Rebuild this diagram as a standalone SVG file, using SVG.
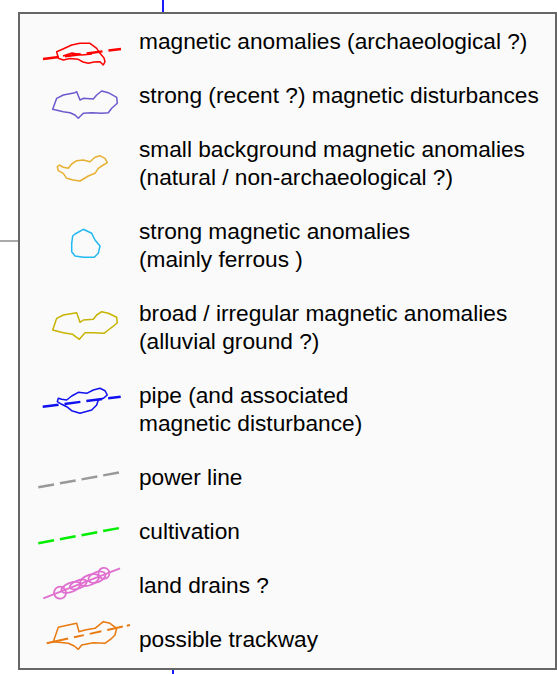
<svg xmlns="http://www.w3.org/2000/svg" width="557" height="674" viewBox="0 0 557 674">
<style>
text{font-family:"Liberation Sans",Arial,sans-serif;font-size:22.7px;fill:#000}
.sym{fill:none;stroke-width:1.5;stroke-linejoin:round}
.dash{fill:none;stroke-width:2.5;stroke-dasharray:16 6}
</style>
<rect width="557" height="674" fill="#fff"/>
<g id="context">
<line x1="163" y1="0" x2="163" y2="14" stroke="#1a1aff" stroke-width="2"/>
<line x1="173" y1="668" x2="173" y2="674" stroke="#1a1aff" stroke-width="2"/>
<line x1="0" y1="241" x2="18" y2="241" stroke="#aaa" stroke-width="2"/>
</g>
<g id="legend-box"><rect x="19" y="13" width="537" height="656" fill="#fafafa" stroke="#666" stroke-width="2"/></g>
<g id="item-archaeological">
<line class="dash" x1="43" y1="59" x2="121" y2="49" stroke="#ff0000" stroke-dasharray="14 5"/>
<polygon class="sym" stroke="#ff0000" points="56.7,51.7 63,49 71.7,45 80,43.3 90,43.3 96.7,48.3 100,53.3 104,58 105,61.7 103.3,65 100,61.7 94,62 88.3,63.3 83,62 78.3,59.3 70,58.5 63.3,60 58.3,58.3"/>
<path class="sym" stroke="#ff0000" d="M63,56 L72,53 L82,55 L92,54"/>
<text x="139" y="49">magnetic anomalies (archaeological ?)</text>
</g>
<g id="item-strong-recent">
<polygon class="sym" stroke="#6a5acd" points="52.7,109.3 56.7,98.3 63.3,95 75,92.7 76.7,91.7 80,100 83.3,98.3 93.3,99 96.7,95 101.7,91 108.3,92.7 116.7,97.3 117.3,103.3 111.7,108.3 108.3,112.7 101.7,113.3 91.7,112.7 83.3,113.3 78.3,118.3 75,115 70,112.7 63.3,111.7"/>
<text x="139" y="103">strong (recent ?) magnetic disturbances</text>
</g>
<g id="item-background">
<polygon class="sym" stroke="#e8b030" stroke-width="1.3" points="57.3,166.7 59.3,165 63.3,167.3 68.3,168.3 71.7,164 76.7,160.7 83.3,160 90,161.7 95,157.3 100,155.7 105,158.3 107.3,162.7 103.3,165 98.3,168.3 95,173.3 88.3,176 80,181 73.3,180 66.7,178.3 63.3,173.3 58.3,170.7"/>
<text x="139" y="157">small background magnetic anomalies</text>
<text x="139" y="185">(natural / non-archaeological ?)</text>
</g>
<g id="item-ferrous">
<polygon class="sym" stroke="#20b8f0" points="72.7,236 75,234 83.3,229.3 91.7,233.3 95,240 100,246 98.3,253.3 94.3,257.3 83.3,257.3 75,256 71.7,251.7 71.7,243.3"/>
<text x="139" y="239">strong magnetic anomalies</text>
<text x="139" y="267">(mainly ferrous )</text>
</g>
<g id="item-alluvial">
<polygon class="sym" stroke="#c8b400" stroke-width="2" points="52.7,330 56.7,318.3 63.3,315 76.7,312.7 80,322.3 83.3,320 93.3,319.3 96.7,315 101.7,311.7 108.3,313.3 116.7,317.3 117.3,322.7 112.7,326.7 108.3,330 104,333.3 93.3,332.7 85,332.7 79.3,339.3 72.7,334.3 63.3,332.7"/>
<text x="139" y="321">broad / irregular magnetic anomalies</text>
<text x="139" y="349">(alluvial ground ?)</text>
</g>
<g id="item-pipe">
<polygon class="sym" stroke="#1010f0" points="58.3,398.3 61.7,399.3 66.7,400 71.7,396 78.3,392.3 86.7,393.3 93.3,390 100,388.3 105,390.7 107.3,395 103.3,398.3 98.3,400 96.7,405 91.7,410 80,413.3 71.7,410.7 66.7,406.7 61.7,404.3 57.3,401.7"/>
<line class="dash" x1="42.7" y1="406.7" x2="120.7" y2="396.7" stroke="#1010f0" stroke-width="3" stroke-dasharray="14 5"/>
<text x="139" y="403">pipe (and associated</text>
<text x="139" y="431">magnetic disturbance)</text>
</g>
<g id="item-power">
<line class="dash" x1="38.3" y1="487.3" x2="123.3" y2="471.7" stroke="#999"/>
<text x="139" y="485">power line</text>
</g>
<g id="item-cultivation">
<line class="dash" x1="38.3" y1="543.3" x2="123.3" y2="527.3" stroke="#00ee00"/>
<text x="139" y="539">cultivation</text>
</g>
<g id="item-drains">
<g stroke="#e070d0" fill="none" stroke-width="1.8">
<line x1="43.3" y1="598.3" x2="120" y2="568.3"/>
<g transform="rotate(-21.4 82 583)">
<circle cx="58" cy="584" r="6"/>
<ellipse cx="70" cy="583" rx="10" ry="4.5"/>
<ellipse cx="78" cy="583" rx="9" ry="4"/>
<ellipse cx="90" cy="583" rx="10" ry="5"/>
<ellipse cx="98" cy="583" rx="9" ry="5"/>
<circle cx="106" cy="582" r="5.5"/>
</g>
</g>
<text x="139" y="593">land drains ?</text>
</g>
<g id="item-trackway">
<polygon class="sym" stroke="#e87a10" points="53.3,641.7 58.3,627.3 68.3,625 76.7,623.3 79,631.7 85,630 95,628.3 103.3,621.7 110,623.3 116.7,628.3 115,635 111.7,638.3 105,643.3 93.3,642.7 81.7,645 78.3,649.3 74.3,646 68.3,643.3 58.3,642.3"/>
<line x1="46.7" y1="643.3" x2="130" y2="625" stroke="#e87a10" stroke-width="2" stroke-dasharray="22 6 10 6 12 6 16 4 40"/>
<text x="139" y="647">possible trackway</text>
</g>
</svg>
